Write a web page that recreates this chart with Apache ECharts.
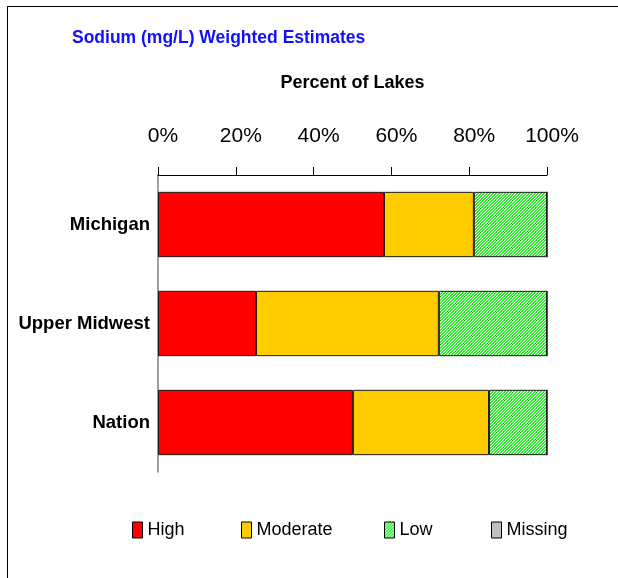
<!DOCTYPE html>
<html>
<head>
<meta charset="utf-8">
<script src="https://cdn.jsdelivr.net/npm/echarts@6/dist/echarts.min.js"></script>
<style>
  html, body { margin: 0; padding: 0; background: #fff; }
  #frame {
    position: absolute; left: 7px; top: 6px; width: 620px; height: 580px;
    border-left: 1px solid #000; border-top: 1px solid #000;
  }
  #chart { position: absolute; left: 0; top: 0; width: 618px; height: 578px; }
</style>
</head>
<body>
<div id="frame"></div>
<div id="chart"></div>
<script>
// 数据
const regions = ['Michigan', 'Upper Midwest', 'Nation']
const highVals = [58.1, 25.2, 50.1]
const moderateVals = [23.1, 47.0, 35.0]
const lowVals = [18.8, 27.8, 14.9]
const missingVals = [0, 0, 0]
const legendNames = ['High', 'Moderate', 'Low', 'Missing']

const FONT = '"Liberation Sans", Arial, sans-serif'

// 绿色斜纹填充
function makeHatch () {
  const c = document.createElement('canvas')
  c.width = 3
  c.height = 3
  const ctx = c.getContext('2d')
  for (let x = 0; x < 3; x++) {
    for (let y = 0; y < 3; y++) {
      ctx.fillStyle = (x + y) % 3 === 0 ? '#ffffff' : '#2ef02e'
      ctx.fillRect(x, y, 1, 1)
    }
  }
  return c
}
const hatch = { image: makeHatch(), repeat: 'repeat' }

const chart = echarts.init(document.getElementById('chart'))

function bar (name, data, color) {
  return {
    name: name,
    type: 'bar',
    stack: 'total',
    data: data,
    barCategoryGap: '34%',
    itemStyle: {
      color: color,
      borderColor: '#1a1a1a',
      borderWidth: 1
    }
  }
}

// 每个图例单独定位
const legendLeft = [127, 236, 379, 486]
const legends = legendNames.map((n, i) => ({
  data: [n],
  left: legendLeft[i],
  top: 516,
  icon: 'rect',
  itemWidth: 10,
  itemHeight: 16,
  itemGap: 4,
  textStyle: { fontFamily: FONT, fontSize: 18, color: '#000' },
  itemStyle: { borderColor: '#000', borderWidth: 1 },
  selectedMode: false
}))

const option = {
  animation: false,
  title: {
    text: 'Sodium (mg/L) Weighted Estimates',
    left: 67,
    top: 24,
    textStyle: {
      fontFamily: FONT,
      fontSize: 17.5,
      fontWeight: 'bold',
      color: '#1010ff'
    }
  },
  legend: legends,
  grid: {
    left: 158,
    right: 71,
    top: 175,
    bottom: 106,
    containLabel: false,
    outerBoundsMode: 'none'
  },
  xAxis: {
    type: 'value',
    position: 'top',
    min: 0,
    max: 100,
    interval: 20,
    name: 'Percent of Lakes',
    nameLocation: 'middle',
    nameGap: 83,
    nameTextStyle: {
      fontFamily: FONT,
      fontSize: 18,
      fontWeight: 'bold',
      color: '#000'
    },
    axisLine: { show: true, lineStyle: { color: '#000', width: 1 } },
    axisTick: { show: true, length: 8, lineStyle: { color: '#000' } },
    axisLabel: {
      formatter: '{value}%',
      margin: 28,
      padding: [0, 0, 0, 10],
      fontFamily: FONT,
      fontSize: 21,
      color: '#000'
    },
    splitLine: { show: false }
  },
  yAxis: {
    type: 'category',
    inverse: true,
    data: regions,
    axisLine: { show: true, lineStyle: { color: '#808080', width: 1.5 } },
    axisTick: { show: false },
    axisLabel: {
      margin: 8,
      fontFamily: FONT,
      fontSize: 18.5,
      fontWeight: 'bold',
      color: '#000'
    }
  },
  series: [
    bar('High', highVals, '#ff0000'),
    bar('Moderate', moderateVals, '#ffcc00'),
    bar('Low', lowVals, hatch),
    bar('Missing', missingVals, '#c0c0c0')
  ]
}
chart.setOption(option)
</script>
</body>
</html>
